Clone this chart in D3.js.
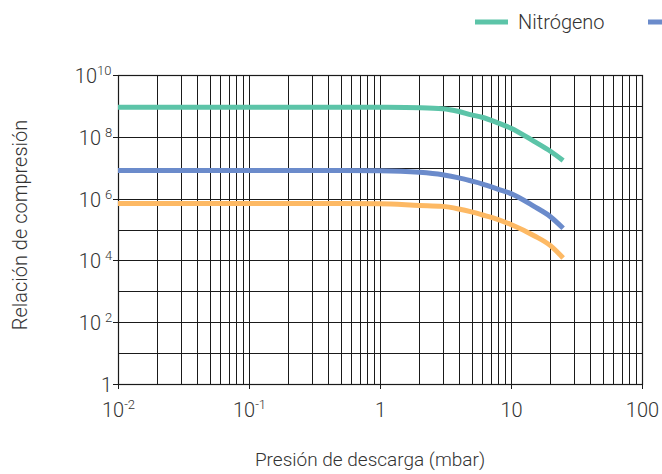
<!DOCTYPE html>
<html>
<head>
<meta charset="utf-8">
<script src="https://cdn.jsdelivr.net/npm/d3@7"></script>
<style>
  html, body { margin: 0; padding: 0; background: #fff; }
  svg { display: block; }
  text { font-family: Roboto, "Noto Sans", sans-serif; font-weight: 300; fill: #333; }
</style>
</head>
<body>
<svg id="chart" width="662" height="474"></svg>
<script>
// ---- data ----
const pressure = [0.01, 0.1, 0.5, 1, 2, 3, 4, 5, 6, 8, 10, 15, 20, 25];
const nitrogen = [9.1e8, 9.1e8, 9.1e8, 9.0e8, 8.7e8, 8.1e8, 6.6e8, 5.1e8, 4.3e8, 2.8e8, 1.9e8, 7.1e7, 3.4e7, 1.7e7];
const helium   = [8.1e6, 8.1e6, 8.1e6, 8.0e6, 7.1e6, 5.9e6, 4.7e6, 3.7e6, 3.0e6, 2.0e6, 1.45e6, 5.6e5, 2.6e5, 1.1e5];
const hydrogen = [6.9e5, 6.9e5, 6.9e5, 6.8e5, 6.0e5, 5.6e5, 4.6e5, 3.7e5, 3.0e5, 2.1e5, 1.45e5, 6.3e4, 3.0e4, 1.2e4];
const seriesNames = ["Nitrógeno", "Helio", "Hidrógeno"];
const seriesColors = ["#5cc4a8", "#6b8bcb", "#fdb964"];
const xTicks = [0.01, 0.1, 1, 10, 100];
const xTickLabels = [["10", "-2"], ["10", "-1"], ["1", ""], ["10", ""], ["100", ""]];
const yTicks = [1, 1e2, 1e4, 1e6, 1e8, 1e10];
const yTickLabels = [["1", ""], ["10", "2"], ["10", "4"], ["10", "6"], ["10", "8"], ["10", "10"]];
const xTitle = "Presión de descarga (mbar)";
const yTitle = "Relación de compresión";

// ---- layout ----
const W = 662;
const svg = d3.select("#chart");
const m = { left: 118, right: 642, top: 75, bottom: 384 };
const x = d3.scaleLog().domain([0.01, 100]).range([m.left, m.right]);
const y = d3.scaleLog().domain([1, 1e10]).range([m.bottom, m.top]);

// grid
const g = svg.append("g");
const xMinor = [];
for (let e = -2; e < 2; e++) for (let k = 1; k <= 9; k++) xMinor.push(k * Math.pow(10, e));
xMinor.push(100);
g.selectAll(".vg").data(xMinor).join("line")
  .attr("x1", d => Math.round(x(d)) + 0.5).attr("x2", d => Math.round(x(d)) + 0.5)
  .attr("y1", m.top).attr("y2", m.bottom)
  .attr("stroke", "#1a1a1a").attr("stroke-width", 1);
const yMinor = d3.range(0, 11).map(e => Math.pow(10, e));
g.selectAll(".hg").data(yMinor).join("line")
  .attr("x1", m.left).attr("x2", m.right)
  .attr("y1", d => Math.round(y(d)) + 0.5).attr("y2", d => Math.round(y(d)) + 0.5)
  .attr("stroke", "#1a1a1a").attr("stroke-width", 1);

// frame
svg.append("rect").attr("x", m.left + 0.5).attr("y", Math.round(m.top) + 0.5)
  .attr("width", m.right - m.left).attr("height", m.bottom - m.top)
  .attr("fill", "none").attr("stroke", "#1a1a1a").attr("stroke-width", 1.2);

// y axis ticks + labels
const yAx = svg.append("g");
yTicks.forEach((t, i) => {
  const yy = Math.round(y(t)) + 0.5;
  yAx.append("line").attr("x1", m.left - 5).attr("x2", m.left).attr("y1", yy).attr("y2", yy)
    .attr("stroke", "#1a1a1a");
  const lab = yTickLabels[i];
  if (lab[1] === "") {
    yAx.append("text").attr("x", m.left - 6).attr("y", yy + 7).attr("font-size", 20)
      .attr("text-anchor", "end").text(lab[0]);
  } else {
    const sup = lab[1];
    const supW = sup.length === 1 ? 12 : 16;
    yAx.append("text").attr("x", m.left - 5 - supW).attr("y", yy + 7).attr("font-size", 20)
      .attr("text-anchor", "end").text(lab[0]);
    yAx.append("text").attr("x", m.left - 5 - supW + (sup.length === 1 ? 4 : 0)).attr("y", yy - 1)
      .attr("font-size", 13).attr("text-anchor", "start").text(sup);
  }
});

// x axis ticks + labels
const xAx = svg.append("g");
xTicks.forEach((t, i) => {
  const xx = Math.round(x(t)) + 0.5;
  xAx.append("line").attr("x1", xx).attr("x2", xx).attr("y1", m.bottom).attr("y2", m.bottom + 5)
    .attr("stroke", "#1a1a1a");
  const lab = xTickLabels[i];
  const tx = xAx.append("text").attr("x", xx).attr("y", 417).attr("font-size", 20)
    .attr("text-anchor", "middle");
  tx.append("tspan").text(lab[0]);
  if (lab[1] !== "") {
    tx.append("tspan").attr("font-size", 13).attr("dy", -8).text(lab[1]);
  }
});

// titles
svg.append("text").attr("x", 370).attr("y", 466).attr("text-anchor", "middle")
  .attr("font-size", 19).text(xTitle);
svg.append("text").attr("transform", "translate(27,225) rotate(-90)")
  .attr("text-anchor", "middle").attr("font-size", 20).text(yTitle);

// lines
const line = d3.line().x(d => x(d[0])).y(d => y(d[1])).curve(d3.curveMonotoneX);
[nitrogen, helium, hydrogen].forEach((s, i) => {
  svg.append("path").datum(pressure.map((p, j) => [p, s[j]]))
    .attr("d", line).attr("fill", "none").attr("stroke", seriesColors[i])
    .attr("stroke-width", 5).attr("stroke-linecap", "butt");
});

// legend (entries beyond the right edge are clipped like in the reference)
const legStart = 475, legStep = 173;
seriesNames.forEach((n, i) => {
  const lx = legStart + i * legStep;
  if (lx < W) {
    svg.append("line").attr("x1", lx).attr("x2", lx + 33).attr("y1", 22).attr("y2", 22)
      .attr("stroke", seriesColors[i]).attr("stroke-width", 5);
  }
  if (lx + 43 + 60 < W) {
    svg.append("text").attr("x", lx + 43).attr("y", 29).attr("font-size", 20).text(n);
  }
});
</script>
</body>
</html>
